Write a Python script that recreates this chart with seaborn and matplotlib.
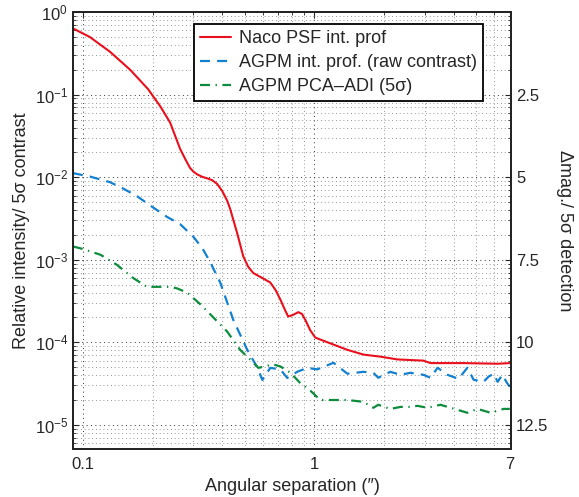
import numpy as np
import pandas as pd
import matplotlib
matplotlib.use('Agg')
import matplotlib.pyplot as plt
import seaborn as sns

# Naco PSF intensity profile
sep_psf = [0.09, 0.107, 0.131, 0.160, 0.191, 0.216, 0.238, 0.263, 0.277, 0.290, 0.300, 0.312, 0.328, 0.344,
           0.362, 0.380, 0.400, 0.420, 0.433, 0.464, 0.493, 0.518, 0.545, 0.590, 0.645, 0.680, 0.713, 0.745,
           0.771, 0.810, 0.853, 0.885, 0.914, 0.96, 1.01, 1.14, 1.39, 1.63, 1.93, 2.29, 2.96, 3.18,
           4.42, 6.2, 7.0]
psf = [0.64, 0.50, 0.33, 0.20, 0.117, 0.072, 0.046, 0.022, 0.0165, 0.013, 0.0117, 0.0108, 0.0101, 0.0097,
       0.0092, 0.0083, 0.0068, 0.0052, 0.0041, 0.0021, 0.0011, 0.00082, 0.00069, 0.00061, 0.00053, 0.00043, 0.00033, 0.00025,
       0.000205, 0.000215, 0.000232, 0.00022, 0.000187, 0.000140, 0.000114, 0.0001, 8.1e-5, 7.1e-5, 6.7e-5, 6.2e-5, 6.0e-5, 5.6e-5,
       5.6e-5, 5.5e-5, 5.6e-5]

# AGPM intensity profile (raw contrast)
sep_raw = [0.0905, 0.107, 0.131, 0.149, 0.171, 0.201, 0.231, 0.263, 0.300, 0.327, 0.354,
           0.380, 0.392, 0.446, 0.513, 0.566, 0.596, 0.645, 0.713, 0.764, 0.844, 0.933,
           1.03, 1.21, 1.39, 1.63, 1.80, 1.89, 2.13, 2.36, 2.60, 2.96, 3.18, 3.41, 3.76,
           4.20, 4.59, 4.88, 5.39, 5.66, 5.96, 6.2, 6.5, 6.8, 7.0]
raw = [0.0112, 0.0102, 0.0087, 0.0073, 0.0059, 0.0043, 0.0033, 0.0027, 0.0019, 0.0014, 0.00095,
       0.00063, 0.00053, 0.000188, 8.1e-5, 5.0e-5, 3.5e-5, 4.9e-5, 4.7e-5, 3.7e-5, 4.4e-5, 4.9e-5,
       4.7e-5, 5.65e-5, 4.16e-5, 4.39e-5, 4.27e-5, 3.72e-5, 4.39e-5, 4.04e-5, 4.27e-5, 4.04e-5, 3.72e-5, 4.92e-5, 4.04e-5,
       3.61e-5, 4.92e-5, 3.52e-5, 3.32e-5, 3.83e-5, 4.16e-5, 3.32e-5, 4.04e-5, 3.23e-5, 2.89e-5]

# AGPM PCA-ADI 5 sigma
sep_adi = [0.0905, 0.100, 0.119, 0.140, 0.165, 0.189, 0.238, 0.255, 0.282, 0.321, 0.366,
           0.380, 0.420, 0.478, 0.528, 0.573, 0.664, 0.713, 0.787, 0.870, 0.961, 1.06,
           1.21, 1.39, 1.63, 1.80, 1.89, 2.13, 2.36, 2.60, 2.79, 3.08, 3.51, 4.16, 4.59,
           5.08, 5.78, 6.58, 7.0]
adi = [0.00145, 0.00135, 0.00115, 0.00087, 0.0006, 0.00047, 0.00047, 0.00045, 0.0004, 0.00029, 0.0002,
       0.00018, 0.000135, 8.1e-5, 6.2e-5, 4.9e-5, 5.4e-5, 5.1e-5, 4.3e-5, 3.2e-5, 2.6e-5, 2.0e-5,
       2.0e-5, 2.0e-5, 1.9e-5, 1.61e-5, 1.75e-5, 1.56e-5, 1.65e-5, 1.65e-5, 1.70e-5, 1.61e-5, 1.75e-5, 1.52e-5, 1.40e-5,
       1.56e-5, 1.40e-5, 1.56e-5, 1.56e-5]

labels = ["Naco PSF int. prof", "AGPM int. prof. (raw contrast)", "AGPM PCA\u2013ADI (5\u03c3)"]
x_ticks = [0.1, 1, 7]
y_ticks = [1, 1e-1, 1e-2, 1e-3, 1e-4, 1e-5]
y_ticklabels = ['$10^{0}$', '$10^{-1}$', '$10^{-2}$', '$10^{-3}$', '$10^{-4}$', '$10^{-5}$']
dmag_ticklabels = ['2.5', '5', '7.5', '10', '12.5']

sns.set_style('white')
plt.rcParams['font.family'] = ['Liberation Sans', 'DejaVu Sans']
plt.rcParams['mathtext.default'] = 'regular'
plt.rcParams['font.size'] = 12

fig = plt.figure(figsize=(5.79, 4.97), dpi=100)
ax = fig.add_axes([0.126, 0.0966, 0.757, 0.879])

sns.lineplot(x=sep_psf, y=psf, ax=ax, color='#e8101c', lw=1.5, label=labels[0])
sns.lineplot(x=sep_raw, y=raw, ax=ax, color='#1380d0', lw=1.6, label=labels[1],
             linestyle=(0, (4.5, 3.2)))
sns.lineplot(x=sep_adi, y=adi, ax=ax, color='#0c8c3c', lw=1.6, label=labels[2],
             linestyle=(0, (4.5, 2.5, 0.6, 2.5)))

ax.set_xscale('log')
ax.set_yscale('log')
ax.set_xlim(0.0905, 7.1)
ax.set_ylim(5.1e-6, 1.0)
ax.set_xticks(x_ticks)
ax.set_xticklabels(['0.1', '1', '7'])
ax.set_yticks(y_ticks)
ax.set_yticklabels(y_ticklabels)
ax.grid(True, which='major', linestyle=(0, (1, 3.5)), color='0.2', lw=0.7)
ax.grid(True, which='minor', linestyle=(0, (1, 3.5)), color='0.45', lw=0.6)
ax.tick_params(which='both', direction='in', top=True, right=False, labelsize=12)
ax.tick_params(axis='x', pad=6)
ax.tick_params(which='major', length=4)
ax.tick_params(which='minor', length=2)
for s in ax.spines.values():
    s.set_color('k')
    s.set_linewidth(1.3)

ax.set_xlabel("Angular separation (\u2033)", fontsize=13, labelpad=4)
ax.set_ylabel("Relative intensity/ 5\u03c3 contrast", fontsize=13, labelpad=3)

leg = ax.legend(loc='upper right', bbox_to_anchor=(0.936, 0.973), fontsize=13,
                frameon=True, fancybox=False, framealpha=1, edgecolor='k',
                borderpad=0.35, labelspacing=0.38, handlelength=1.7, handletextpad=0.45,
                borderaxespad=0)
leg.get_frame().set_linewidth(1.3)

ax2 = ax.twinx()
ax2.set_yscale('log')
ax2.set_ylim(ax.get_ylim())
ax2.set_yticks(y_ticks[1:])
ax2.set_yticklabels(dmag_ticklabels)
ax2.tick_params(which='both', direction='in', labelsize=12)
ax2.tick_params(which='major', length=4)
ax2.tick_params(which='minor', length=2)
ax2.set_ylabel("\u0394mag./ 5\u03c3 detection", fontsize=13, rotation=270, labelpad=18)
for s in ax2.spines.values():
    s.set_linewidth(1.3)

fig.savefig('out.png', dpi=100)
